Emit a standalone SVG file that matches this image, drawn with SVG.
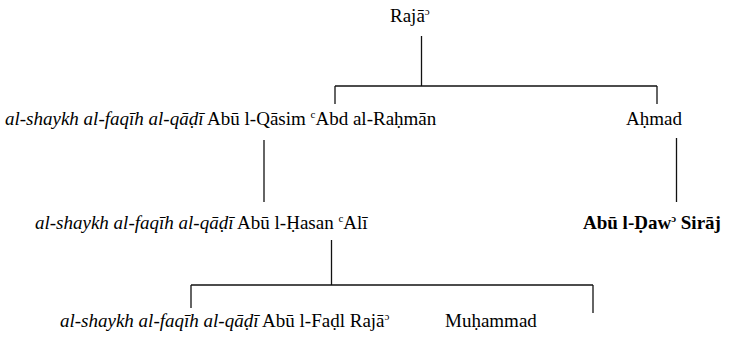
<svg xmlns="http://www.w3.org/2000/svg" width="740" height="341" viewBox="0 0 740 341">
<style>
#connectors line{stroke:#111;stroke-width:1.3}
.sup{font-size:11px}
.it{font-style:italic}
</style>
<rect width="740" height="341" fill="#fff"/>
<g id="connectors">
<line x1="421.5" y1="36" x2="421.5" y2="86"/>
<line x1="335" y1="86" x2="657" y2="86"/>
<line x1="335" y1="86" x2="335" y2="104"/>
<line x1="657" y1="86" x2="657" y2="104"/>
<line x1="264" y1="140" x2="264" y2="202"/>
<line x1="676.5" y1="138" x2="676.5" y2="202"/>
<line x1="331.5" y1="240" x2="331.5" y2="285"/>
<line x1="191" y1="285" x2="593" y2="285"/>
<line x1="191" y1="285" x2="191" y2="308"/>
<line x1="593" y1="285" x2="593" y2="313"/>
</g>
<g id="raja"><text x="390" y="22" font-family="Liberation Serif, Times New Roman, serif" font-size="19">Rajā<tspan class="sup" dy="-7">ɔ</tspan></text></g>
<g id="abdalrahman"><text x="5" y="125" font-family="Liberation Serif, Times New Roman, serif" font-size="19"><tspan class="it">al-shaykh al-faqīh al-qāḍī</tspan> Abū l-Qāsim <tspan class="sup" dy="-7">c</tspan><tspan dy="7">Abd al-Raḥmān</tspan></text></g>
<g id="ahmad"><text x="626" y="125" font-family="Liberation Serif, Times New Roman, serif" font-size="19">Aḥmad</text></g>
<g id="ali"><text x="35" y="229" font-family="Liberation Serif, Times New Roman, serif" font-size="19"><tspan class="it">al-shaykh al-faqīh al-qāḍī</tspan> Abū l-Ḥasan <tspan class="sup" dy="-7">c</tspan><tspan dy="7">Alī</tspan></text></g>
<g id="siraj"><text x="583" y="229" font-family="Liberation Serif, Times New Roman, serif" font-size="19" font-weight="bold">Abū l-Ḍaw<tspan class="sup" dy="-7">ɔ</tspan><tspan dy="7"> Sirāj</tspan></text></g>
<g id="fadl"><text x="60" y="327" font-family="Liberation Serif, Times New Roman, serif" font-size="19"><tspan class="it">al-shaykh al-faqīh al-qāḍī</tspan> Abū l-Faḍl Rajā<tspan class="sup" dy="-7">ɔ</tspan></text></g>
<g id="muhammad"><text x="445" y="327" font-family="Liberation Serif, Times New Roman, serif" font-size="19">Muḥammad</text></g>
</svg>
